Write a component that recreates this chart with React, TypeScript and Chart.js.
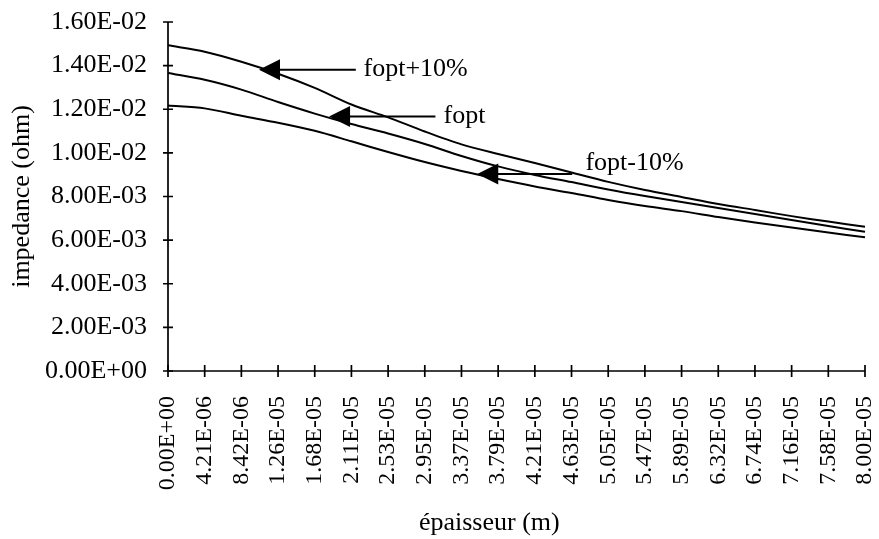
import React, { useEffect, useRef } from 'react';
import { Chart, registerables } from 'chart.js';

Chart.register(...registerables);

// Categories (épaisseur, m)
const xLabels = [
  '0.00E+00', '4.21E-06', '8.42E-06', '1.26E-05', '1.68E-05', '2.11E-05', '2.53E-05',
  '2.95E-05', '3.37E-05', '3.79E-05', '4.21E-05', '4.63E-05', '5.05E-05', '5.47E-05',
  '5.89E-05', '6.32E-05', '6.74E-05', '7.16E-05', '7.58E-05', '8.00E-05',
];

// Y tick labels (impedance, ohm), bottom to top
const yTickLabels = [
  '0.00E+00', '2.00E-03', '4.00E-03', '6.00E-03', '8.00E-03',
  '1.00E-02', '1.20E-02', '1.40E-02', '1.60E-02',
];

// Series values
const foptPlus10 = [
  0.01493, 0.01464, 0.01418, 0.01363, 0.01298, 0.01222, 0.01163, 0.01098, 0.01039, 0.00995,
  0.00954, 0.0091, 0.00867, 0.0083, 0.00798, 0.00766, 0.00738, 0.0071, 0.00685, 0.00661,
];
const foptValues = [
  0.01366, 0.01335, 0.0129, 0.01233, 0.0118, 0.01132, 0.01089, 0.01041, 0.00986, 0.00938,
  0.00899, 0.00866, 0.00832, 0.00802, 0.00775, 0.00747, 0.0072, 0.00692, 0.00665, 0.00638,
];
const foptMinus10 = [
  0.01217, 0.01204, 0.0117, 0.01138, 0.01101, 0.01053, 0.01004, 0.00958, 0.00917, 0.0088,
  0.00846, 0.00816, 0.00784, 0.00756, 0.00733, 0.00706, 0.00681, 0.00658, 0.00635, 0.00613,
];

// Annotations (arrow labels), in data units (x = category index)
const arrowLabels = ['fopt+10%', 'fopt', 'fopt-10%'];
const arrowTipX = [2.48, 4.39, 8.43];
const arrowTipY = [0.01381, 0.01167, 0.00903];
const arrowTailX = [5.12, 7.29, 11.02];
const labelX = [5.33, 7.51, 11.38];
const labelY = [0.01386, 0.0117, 0.00954];

const xTitle = 'épaisseur (m)';
const yTitle = 'impedance (ohm)';

const FONT = '"Liberation Serif", "Times New Roman", serif';

const overlayPlugin = {
  id: 'overlay',
  afterDraw(chart: any) {
    const { ctx, chartArea } = chart;
    const xs = chart.scales.x;
    const ys = chart.scales.y;
    ctx.save();
    ctx.strokeStyle = '#000';
    ctx.fillStyle = '#000';
    ctx.lineWidth = 1.7;
    // axes
    ctx.beginPath();
    ctx.moveTo(chartArea.left, chartArea.top);
    ctx.lineTo(chartArea.left, chartArea.bottom);
    ctx.lineTo(chartArea.right, chartArea.bottom);
    ctx.stroke();
    // y ticks (crossing)
    ctx.beginPath();
    ys.ticks.forEach((t: any) => {
      const y = ys.getPixelForValue(t.value);
      ctx.moveTo(chartArea.left - 5, y);
      ctx.lineTo(chartArea.left + 5, y);
    });
    // x ticks (crossing)
    xLabels.forEach((_, i) => {
      const x = xs.getPixelForValue(i);
      ctx.moveTo(x, chartArea.bottom - 6);
      ctx.lineTo(x, chartArea.bottom + 6);
    });
    ctx.stroke();

    // arrows and labels
    ctx.font = `26px ${FONT}`;
    ctx.textAlign = 'left';
    ctx.textBaseline = 'middle';
    arrowLabels.forEach((lab, i) => {
      const tx = xs.getPixelForValue(arrowTipX[i]);
      const ty = ys.getPixelForValue(arrowTipY[i]);
      const ex = xs.getPixelForValue(arrowTailX[i]);
      const headLen = 21;
      const headHalf = 10.5;
      ctx.lineWidth = 2;
      ctx.beginPath();
      ctx.moveTo(tx + headLen - 1, ty);
      ctx.lineTo(ex, ty);
      ctx.stroke();
      ctx.beginPath();
      ctx.moveTo(tx, ty);
      ctx.lineTo(tx + headLen, ty - headHalf);
      ctx.lineTo(tx + headLen, ty + headHalf);
      ctx.closePath();
      ctx.fill();
      ctx.fillText(lab, xs.getPixelForValue(labelX[i]), ys.getPixelForValue(labelY[i]));
    });

    // axis titles
    ctx.font = `26px ${FONT}`;
    ctx.textAlign = 'center';
    ctx.textBaseline = 'middle';
    ctx.fillText(xTitle, chartArea.left + (chartArea.right - chartArea.left) * 0.461, 523);
    ctx.save();
    ctx.translate(22, (chartArea.top + chartArea.bottom) / 2);
    ctx.rotate(-Math.PI / 2);
    ctx.fillText(yTitle, 0, 0);
    ctx.restore();
    ctx.restore();
  },
};

export default function App() {
  const canvasRef = useRef<HTMLCanvasElement | null>(null);

  useEffect(() => {
    const canvas = canvasRef.current;
    if (!canvas) return;
    const lineStyle = {
      borderColor: '#000',
      borderWidth: 2,
      pointRadius: 0,
      fill: false,
      tension: 0.3,
    };
    const chart = new Chart(canvas, {
      type: 'line',
      data: {
        labels: xLabels,
        datasets: [
          { label: 'fopt+10%', data: foptPlus10, ...lineStyle },
          { label: 'fopt', data: foptValues, ...lineStyle },
          { label: 'fopt-10%', data: foptMinus10, ...lineStyle },
        ],
      },
      options: {
        animation: false,
        responsive: true,
        maintainAspectRatio: false,
        layout: { padding: { top: 22, right: 14, left: 0, bottom: 0 } },
        plugins: {
          legend: { display: false },
          tooltip: { enabled: false },
          title: { display: false },
        },
        scales: {
          x: {
            type: 'category',
            offset: false,
            grid: { display: false },
            border: { display: false },
            ticks: {
              color: '#000',
              font: { family: FONT, size: 24 },
              minRotation: 90,
              maxRotation: 90,
              autoSkip: false,
              padding: 17,
            },
            afterFit: (s: any) => {
              s.height = 168;
              s.paddingLeft = 0;
              s.paddingRight = 0;
            },
          },
          y: {
            min: 0,
            max: 0.016,
            grid: { display: false },
            border: { display: false },
            ticks: {
              stepSize: 0.002,
              color: '#000',
              font: { family: FONT, size: 26 },
              padding: 13,
              callback: (_v: any, i: number) => yTickLabels[i],
            },
            afterFit: (s: any) => {
              s.width = 168;
              s.paddingTop = 0;
              s.paddingBottom = 0;
            },
          },
        },
      },
      plugins: [overlayPlugin],
    });
    return () => chart.destroy();
  }, []);

  return (
    <div style={{ position: 'fixed', left: 0, top: 0, width: 879, height: 539, background: '#fff' }}>
      <canvas ref={canvasRef} />
    </div>
  );
}
